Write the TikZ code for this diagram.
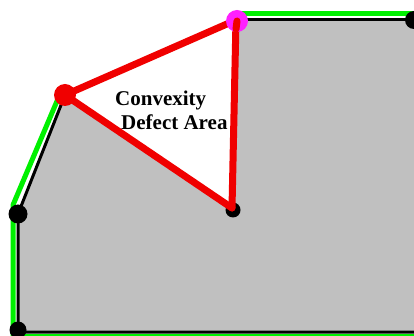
\documentclass[tikz,border=0pt]{standalone}
\usepackage{fontspec}
\setmainfont{Liberation Serif}
\definecolor{shapegrey}{HTML}{C0C0C0}
\definecolor{hullgreen}{HTML}{00F000}
\definecolor{defred}{HTML}{F00000}
\definecolor{farpink}{HTML}{FF20FF}
\tikzset{
  x=1pt, y=-1pt,
  hull/.style={draw=hullgreen, line width=5pt},
  contour/.style={draw=black, line width=3pt},
  defect/.style={draw=defred, line width=7pt, line cap=round, line join=round},
  dotnode/.style={circle, inner sep=0pt, minimum size=#1},
  lbl/.style={font=\bfseries\fontsize{21}{24}\selectfont, inner sep=0pt, anchor=base west}
}
\begin{document}
\begin{tikzpicture}
\useasboundingbox (0,0) rectangle (414,336);
\fill[white] (0,0) rectangle (414,336);
% contour points
\coordinate (start) at (65,95);
\coordinate (far) at (236,20);
\coordinate (deep) at (232,208);
\coordinate (tr) at (414,20);
\coordinate (br) at (414,332);
\coordinate (bl) at (18,332);
\coordinate (ml) at (18,214);
% grey shape
\fill[shapegrey] (start) -- (deep) -- (far) -- (tr) -- (br) -- (bl) -- (ml) -- cycle;
% hull (green)
\coordinate (htl) at (240,14);
\coordinate (htr) at (414,14);
\coordinate (hs) at (60,94);
\coordinate (hm) at (13,205);
\coordinate (hbl) at (13,336);
\coordinate (hbr) at (414,336);
\draw[hull] (htl) -- (htr);
\draw[hull] (hs) -- (hm) -- (hbl);
\draw[hull] (hbl) -- (hbr);
% contour (black)
\draw[contour] (far) -- (tr);
\draw[contour] (start) -- (ml) -- (bl) -- (br);
\draw[black, line width=2pt] (far) -- (deep);
% black vertices
\node[dotnode=19pt, fill=black] (vml) at (18,214) {};
\node[dotnode=17pt, fill=black] (vbl) at (18,330) {};
\node[dotnode=18pt, fill=black] (vtr) at (414,20) {};
\node[dotnode=15pt, fill=black] (vdeep) at (233,210) {};
\node[dotnode=16pt, fill=black] (vfarb) at (236,19) {};
% defect triangle (red)
\draw[defect] (start) -- (far);
\draw[defect] (far) -- (deep);
\draw[defect] (deep) -- (start);
% special points
\node[dotnode=22pt, fill=defred] (vstart) at (65,95) {};
\node[dotnode=22pt, fill=farpink] (vfar) at (237,21) {};
\draw[defect] (vfar.center) -- ++(-1,8);
% label
\node[lbl] (l1) at (115,106) {Convexity};
\node[lbl] (l2) at (121,130) {Defect Area};
\end{tikzpicture}
\end{document}
